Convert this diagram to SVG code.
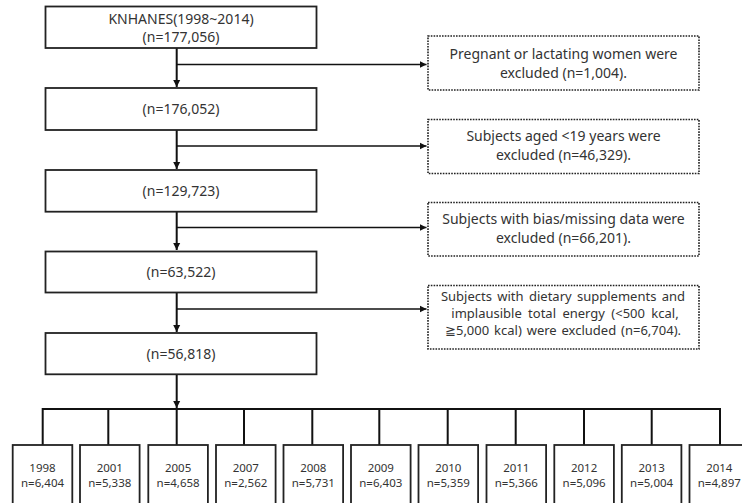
<svg xmlns="http://www.w3.org/2000/svg" width="742" height="503" viewBox="0 0 742 503">
<style>
.box{fill:#fff;stroke:#222;stroke-width:1.8}
.dbox{fill:#fff;stroke:#222;stroke-width:1.6;stroke-dasharray:1.6 1.2}
.t{font-family:"Noto Sans","Open Sans",sans-serif;font-size:14px;fill:#333;text-anchor:middle}
.s{font-family:"Noto Sans","Open Sans",sans-serif;font-size:13px;fill:#333;text-anchor:middle}
.y{font-family:"Noto Sans","Open Sans",sans-serif;font-size:11.5px;fill:#333;text-anchor:middle}
.v{stroke:#111;stroke-width:2;fill:none}
.h{stroke:#111;stroke-width:1.5;fill:none}
</style>
<defs>
<marker id="ad" markerWidth="8" markerHeight="8" refX="7" refY="4" orient="auto" markerUnits="userSpaceOnUse">
<path d="M0,0.5 L7,4 L0,7.5 Z" fill="#111"/>
</marker>
</defs>
<g id="connectors">
<path class="v" d="M176.7,48 V87" marker-end="url(#ad)"/>
<path class="v" d="M176.7,130 V169" marker-end="url(#ad)"/>
<path class="v" d="M176.7,212 V250" marker-end="url(#ad)"/>
<path class="v" d="M176.7,293 V332" marker-end="url(#ad)"/>
<path class="v" d="M176.7,374 V408" marker-end="url(#ad)"/>
<path class="h" d="M176.7,64.5 H426.5" marker-end="url(#ad)"/>
<path class="h" d="M176.7,146 H426.5" marker-end="url(#ad)"/>
<path class="h" d="M176.7,227.5 H426.5" marker-end="url(#ad)"/>
<path class="h" d="M176.7,309 H426.5" marker-end="url(#ad)"/>
<path class="v" d="M42.7,445 V409 H720 V445"/>
<path class="v" d="M108.3,409 V445 M176.7,409 V445 M244,409 V445 M312.3,409 V445 M379.3,409 V445 M447.7,409 V445 M515.7,409 V445 M584,409 V445 M651.7,409 V445"/>
</g>
<g id="n1"><rect class="box" x="45.5" y="6.5" width="271" height="41.5"/><text class="t" x="181" y="24">KNHANES(1998~2014)</text><text class="t" x="181" y="42">(n=177,056)</text></g>
<g id="n2"><rect class="box" x="45.5" y="88" width="271" height="42"/><text class="t" x="181" y="114">(n=176,052)</text></g>
<g id="n3"><rect class="box" x="45.5" y="170" width="271" height="41.7"/><text class="t" x="181" y="196">(n=129,723)</text></g>
<g id="n4"><rect class="box" x="45.5" y="251.5" width="271" height="41"/><text class="t" x="181" y="277">(n=63,522)</text></g>
<g id="n5"><rect class="box" x="45.5" y="333" width="271" height="41.3"/><text class="t" x="181" y="359">(n=56,818)</text></g>
<g id="e1"><rect class="dbox" x="428" y="36" width="271" height="54"/><text class="t" x="563.5" y="59">Pregnant or lactating women were</text><text class="t" x="563.5" y="78">excluded (n=1,004).</text></g>
<g id="e2"><rect class="dbox" x="428" y="119.5" width="271" height="54"/><text class="t" x="563.5" y="141">Subjects aged &lt;19 years were</text><text class="t" x="563.5" y="160">excluded (n=46,329).</text></g>
<g id="e3"><rect class="dbox" x="428" y="202.5" width="271" height="53.5"/><text class="t" x="563.5" y="224">Subjects with bias/missing data were</text><text class="t" x="563.5" y="243">excluded (n=66,201).</text></g>
<g id="e4"><rect class="dbox" x="428" y="285.5" width="271" height="63.5"/><text class="s" x="563" y="300.5" word-spacing="2">Subjects with dietary supplements and</text><text class="s" x="565" y="317.5" word-spacing="3">implausible total energy (&lt;500 kcal,</text><text class="s" x="563" y="334.5" word-spacing="1.5">≧5,000 kcal) were excluded (n=6,704).</text></g>
<g id="y1998"><rect class="box" x="12.7" y="445" width="59.6" height="70"/><text class="y" x="42.5" y="472">1998</text><text class="y" x="42.5" y="487">n=6,404</text></g>
<g id="y2001"><rect class="box" x="80" y="445" width="59.6" height="70"/><text class="y" x="109.8" y="472">2001</text><text class="y" x="109.8" y="487">n=5,338</text></g>
<g id="y2005"><rect class="box" x="148.3" y="445" width="59.6" height="70"/><text class="y" x="178.1" y="472">2005</text><text class="y" x="178.1" y="487">n=4,658</text></g>
<g id="y2007"><rect class="box" x="216" y="445" width="59.6" height="70"/><text class="y" x="245.8" y="472">2007</text><text class="y" x="245.8" y="487">n=2,562</text></g>
<g id="y2008"><rect class="box" x="283.5" y="445" width="59.6" height="70"/><text class="y" x="313.3" y="472">2008</text><text class="y" x="313.3" y="487">n=5,731</text></g>
<g id="y2009"><rect class="box" x="351" y="445" width="59.6" height="70"/><text class="y" x="380.8" y="472">2009</text><text class="y" x="380.8" y="487">n=6,403</text></g>
<g id="y2010"><rect class="box" x="418.5" y="445" width="59.6" height="70"/><text class="y" x="448.3" y="472">2010</text><text class="y" x="448.3" y="487">n=5,359</text></g>
<g id="y2011"><rect class="box" x="486.5" y="445" width="59.6" height="70"/><text class="y" x="516.3" y="472">2011</text><text class="y" x="516.3" y="487">n=5,366</text></g>
<g id="y2012"><rect class="box" x="554.3" y="445" width="59.6" height="70"/><text class="y" x="584.1" y="472">2012</text><text class="y" x="584.1" y="487">n=5,096</text></g>
<g id="y2013"><rect class="box" x="621.8" y="445" width="59.6" height="70"/><text class="y" x="651.6" y="472">2013</text><text class="y" x="651.6" y="487">n=5,004</text></g>
<g id="y2014"><rect class="box" x="689.5" y="445" width="59.6" height="70"/><text class="y" x="719.3" y="472">2014</text><text class="y" x="719.3" y="487">n=4,897</text></g>
</svg>
